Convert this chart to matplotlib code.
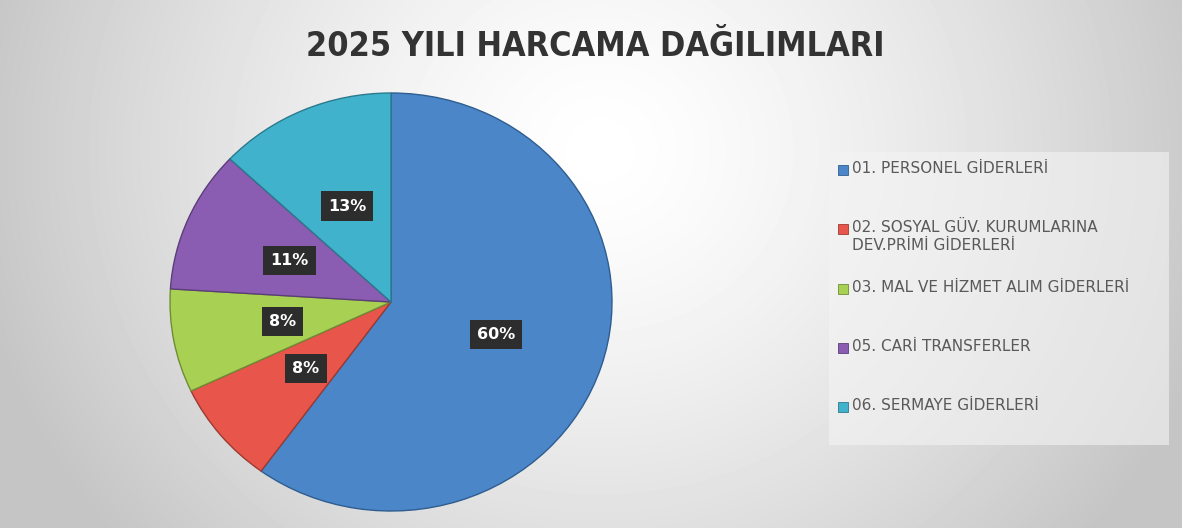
import numpy as np
import matplotlib.pyplot as plt
from matplotlib.patches import Rectangle

# veriler
title = '2025 YILI HARCAMA DAĞILIMLARI'
labels = ['01. PERSONEL GİDERLERİ',
          '02. SOSYAL GÜV. KURUMLARINA\nDEV.PRİMİ GİDERLERİ',
          '03. MAL VE HİZMET ALIM GİDERLERİ',
          '05. CARİ TRANSFERLER',
          '06. SERMAYE GİDERLERİ']
shares = [60, 8, 8, 11, 13]
colors = ['#4b86c9', '#e8564b', '#a8d052', '#8b5db2', '#41b2cc']
edges = ['#2f5d8f', '#9c3a32', '#6f8d35', '#5c3d7a', '#2b7a8d']

W, H = 1182, 528
fig = plt.figure(figsize=(W / 100, H / 100), dpi=100)

# gri arka plan
bg = fig.add_axes([0, 0, 1, 1])
yy, xx = np.mgrid[0:H, 0:W]
d = np.sqrt(((xx - 600) / 640) ** 2 + ((yy - 150) / 600) ** 2)
v = 1 - 0.23 * np.clip(d, 0, 1) ** 1.4
bg.imshow(v, cmap='gray', vmin=0, vmax=1, extent=[0, W, H, 0], aspect='auto')
bg.add_patch(Rectangle((829, 152), 340, 293, facecolor='#f4f4f4', alpha=0.6,
                       edgecolor='none'))
bg.set_xlim(0, W)
bg.set_ylim(H, 0)
bg.axis('off')

# pasta
cx, cy, rx, ry = 391, 302, 221, 209
ax = fig.add_axes([(cx - rx) / W, (H - cy - ry) / H, 2 * rx / W, 2 * ry / H])
wedges, texts, autotexts = ax.pie(
    shares, colors=colors, startangle=90, counterclock=False,
    autopct=lambda p: f'{p:.0f}%', pctdistance=0.5,
    wedgeprops=dict(linewidth=1.0),
    textprops=dict(color='white', fontsize=11.5, fontweight='bold'))
for w, e in zip(wedges, edges):
    w.set_edgecolor(e)
for t in autotexts:
    t.set_bbox(dict(boxstyle='square,pad=0.45', facecolor='#2d2d2d',
                    edgecolor='none'))
ax.set_aspect('auto')
ax.set_xlim(-1, 1)
ax.set_ylim(-1, 1)
ax.axis('off')

fig.text(595 / W, 1 - 46 / H, title, ha='center', va='center', fontsize=24.5,
         fontweight='bold', fontstretch='condensed', color='#333333',
         family='DejaVu Sans')

# lejant (her satır ~59 px aralıkla)
for i, (lab, col, e) in enumerate(zip(labels, colors, edges)):
    y = 170 + 59.3 * i
    bg.add_patch(Rectangle((838, y - 5), 10, 10, facecolor=col, edgecolor=e,
                           linewidth=0.6))
    bg.text(852, y - 9, lab, ha='left', va='top', fontsize=11,
            color='#595959', family='DejaVu Sans', linespacing=1.2)

fig.savefig('out.png', dpi=100)
